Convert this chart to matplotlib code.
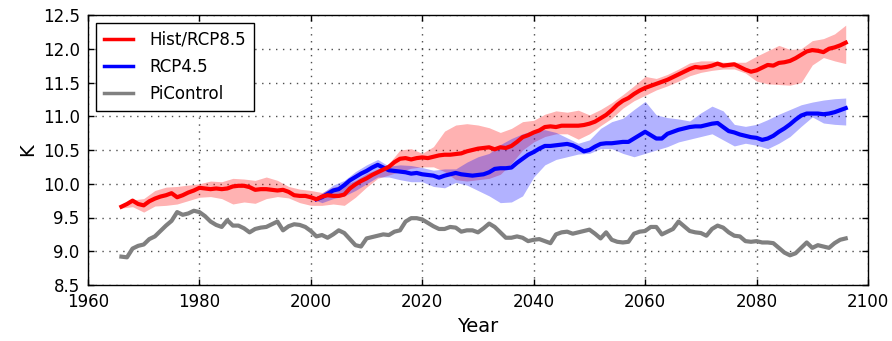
import numpy as np
import matplotlib
matplotlib.use("Agg")
import matplotlib.pyplot as plt

# ---------------- data ----------------
hist_years = list(range(1966, 2097))
hist_rcp85 = [
    9.66, 9.70, 9.75, 9.70, 9.68, 9.74, 9.78, 9.81, 9.83, 9.86,   # 1966-1975
    9.80, 9.83, 9.87, 9.90, 9.94, 9.93, 9.92, 9.93, 9.92, 9.93,   # 1976-1985
    9.96, 9.97, 9.97, 9.95, 9.91, 9.92, 9.92, 9.91, 9.90, 9.91,   # 1986-1995
    9.88, 9.83, 9.82, 9.82, 9.80, 9.77, 9.81, 9.83, 9.82, 9.82,   # 1996-2005
    9.84, 9.93, 9.99, 10.04, 10.08, 10.13, 10.17, 10.21, 10.25, 10.32,  # 2006-2015
    10.37, 10.38, 10.36, 10.38, 10.39, 10.38, 10.40, 10.42, 10.43, 10.43,  # 2016-2025
    10.44, 10.45, 10.48, 10.50, 10.52, 10.53, 10.54, 10.51, 10.54, 10.53,  # 2026-2035
    10.56, 10.62, 10.69, 10.72, 10.76, 10.79, 10.84, 10.85, 10.84, 10.86,  # 2036-2045
    10.86, 10.86, 10.86, 10.87, 10.89, 10.92, 10.97, 11.02, 11.09, 11.17,  # 2046-2055
    11.23, 11.27, 11.33, 11.38, 11.42, 11.45, 11.48, 11.51, 11.54, 11.58,  # 2056-2065
    11.62, 11.66, 11.70, 11.73, 11.72, 11.73, 11.75, 11.78, 11.75, 11.76,  # 2066-2075
    11.77, 11.73, 11.69, 11.66, 11.68, 11.72, 11.76, 11.75, 11.79, 11.80,  # 2076-2085
    11.82, 11.86, 11.91, 11.96, 11.98, 11.97, 11.95, 12.00, 12.02, 12.05,  # 2086-2095
    12.09,                                                                # 2096
]

rcp45_years = list(range(2001, 2097))
rcp45 = [
    9.77, 9.80, 9.85, 9.90, 9.92, 9.98, 10.05, 10.10, 10.15, 10.19,       # 2001-2010
    10.24, 10.28, 10.24, 10.20, 10.19, 10.18, 10.17, 10.15, 10.16, 10.14,  # 2011-2020
    10.13, 10.12, 10.09, 10.12, 10.14, 10.16, 10.14, 10.13, 10.12, 10.13,  # 2021-2030
    10.14, 10.17, 10.22, 10.23, 10.23, 10.24, 10.31, 10.37, 10.43, 10.47,  # 2031-2040
    10.52, 10.56, 10.56, 10.57, 10.58, 10.59, 10.57, 10.53, 10.48, 10.50,  # 2041-2050
    10.55, 10.59, 10.60, 10.60, 10.61, 10.62, 10.62, 10.67, 10.72, 10.77,  # 2051-2060
    10.72, 10.67, 10.67, 10.74, 10.77, 10.80, 10.82, 10.84, 10.85, 10.85,  # 2061-2070
    10.87, 10.89, 10.90, 10.84, 10.78, 10.76, 10.73, 10.71, 10.69, 10.68,  # 2071-2080
    10.65, 10.67, 10.71, 10.77, 10.82, 10.88, 10.95, 11.01, 11.04, 11.04,  # 2081-2090
    11.04, 11.03, 11.04, 11.06, 11.09, 11.12,                              # 2091-2096
]

picontrol_years = list(range(1966, 2097))
picontrol = [
    8.92, 8.91, 9.04, 9.08, 9.10, 9.18, 9.22, 9.30, 9.38, 9.45,   # 1966-1975
    9.58, 9.54, 9.56, 9.60, 9.58, 9.52, 9.44, 9.39, 9.36, 9.46,   # 1976-1985
    9.38, 9.38, 9.34, 9.28, 9.33, 9.35, 9.36, 9.40, 9.44, 9.31,   # 1986-1995
    9.37, 9.40, 9.39, 9.36, 9.30, 9.22, 9.24, 9.20, 9.25, 9.31,   # 1996-2005
    9.27, 9.18, 9.09, 9.07, 9.19, 9.21, 9.23, 9.25, 9.24, 9.29,   # 2006-2015
    9.31, 9.44, 9.49, 9.49, 9.47, 9.42, 9.37, 9.33, 9.33, 9.36,   # 2016-2025
    9.35, 9.29, 9.31, 9.31, 9.28, 9.34, 9.41, 9.36, 9.28, 9.20,   # 2026-2035
    9.20, 9.22, 9.20, 9.15, 9.17, 9.18, 9.15, 9.12, 9.25, 9.28,   # 2036-2045
    9.29, 9.26, 9.28, 9.30, 9.32, 9.26, 9.19, 9.28, 9.17, 9.14,   # 2046-2055
    9.13, 9.14, 9.26, 9.29, 9.30, 9.36, 9.36, 9.25, 9.29, 9.33,   # 2056-2065
    9.44, 9.37, 9.30, 9.28, 9.27, 9.23, 9.33, 9.38, 9.35, 9.28,   # 2066-2075
    9.23, 9.22, 9.15, 9.14, 9.15, 9.13, 9.13, 9.12, 9.05, 8.98,   # 2076-2085
    8.94, 8.97, 9.05, 9.13, 9.05, 9.09, 9.07, 9.05, 9.12, 9.17,   # 2086-2095
    9.19,                                                         # 2096
]

# spread (shaded range) sampled every 2 years
hist_band_years = list(range(1966, 2097, 2))
hist_band_low = [
    9.64, 9.66, 9.58, 9.67, 9.68, 9.70, 9.75, 9.80, 9.81, 9.78,    # 1966-1984
    9.70, 9.73, 9.71, 9.78, 9.81, 9.79, 9.72, 9.68, 9.68, 9.70,    # 1986-2004
    9.68, 9.80, 9.95, 10.08, 10.13, 10.18, 10.23, 10.25, 10.25, 10.18,  # 2006-2024
    10.06, 10.04, 10.06, 10.08, 10.14, 10.30, 10.50, 10.62, 10.70, 10.74,  # 2026-2044
    10.74, 10.66, 10.74, 10.86, 10.97, 11.12, 11.23, 11.31, 11.39, 11.45,  # 2046-2064
    11.52, 11.60, 11.65, 11.68, 11.70, 11.70, 11.64, 11.52, 11.48, 11.47,  # 2066-2084
    11.46, 11.50, 11.76, 11.87, 11.82, 11.78,                              # 2086-2096
]
hist_band_high = [
    9.69, 9.76, 9.78, 9.90, 9.95, 9.96, 9.98, 10.00, 10.04, 10.03,   # 1966-1984
    10.08, 10.07, 10.05, 10.10, 10.05, 9.96, 9.92, 9.90, 9.87, 9.95,  # 1986-2004
    9.98, 10.05, 10.15, 10.22, 10.30, 10.50, 10.52, 10.45, 10.55, 10.78,  # 2006-2024
    10.87, 10.89, 10.87, 10.83, 10.76, 10.82, 10.92, 10.94, 11.03, 11.08,  # 2026-2044
    11.06, 11.09, 11.02, 11.10, 11.20, 11.32, 11.45, 11.59, 11.56, 11.62,  # 2046-2064
    11.70, 11.79, 11.82, 11.82, 11.80, 11.80, 11.80, 11.89, 11.97, 12.05,  # 2066-2084
    11.99, 12.00, 12.12, 12.15, 12.22, 12.35,                              # 2086-2096
]

rcp45_band_years = [2001] + list(range(2002, 2097, 2))
rcp45_band_low = [
    9.75,
    9.72, 9.78, 9.82, 9.90, 10.00, 10.10, 10.10, 10.06, 10.03, 10.03,  # 2002-2020
    9.96, 9.94, 10.02, 9.98, 9.90, 9.82, 9.72, 9.73, 9.82, 10.10,      # 2022-2040
    10.28, 10.36, 10.40, 10.44, 10.45, 10.52, 10.52, 10.45, 10.40, 10.45,  # 2042-2060
    10.50, 10.55, 10.62, 10.66, 10.70, 10.74, 10.65, 10.56, 10.60, 10.57,  # 2062-2080
    10.52, 10.60, 10.70, 10.85, 10.99, 10.90, 10.88, 10.87,                # 2082-2096
]
rcp45_band_high = [
    9.79,
    9.86, 9.98, 10.05, 10.18, 10.28, 10.36, 10.26, 10.28, 10.27, 10.24,  # 2002-2020
    10.20, 10.22, 10.22, 10.32, 10.40, 10.45, 10.58, 10.67, 10.74, 10.79,  # 2022-2040
    10.80, 10.76, 10.68, 10.60, 10.65, 10.82, 10.92, 10.97, 11.10, 11.22,  # 2042-2060
    11.02, 10.98, 10.96, 10.93, 11.05, 11.15, 11.08, 10.88, 10.85, 10.88,  # 2062-2080
    10.95, 11.03, 11.10, 11.17, 11.21, 11.24, 11.26, 11.27,                # 2082-2096
]

x_ticks = [1960, 1980, 2000, 2020, 2040, 2060, 2080, 2100]
y_ticks = [8.5, 9.0, 9.5, 10.0, 10.5, 11.0, 11.5, 12.0, 12.5]

# ---------------- plot ----------------
plt.rcParams['font.family'] = ['DejaVu Sans']
plt.rcParams['font.size'] = 12

fig = plt.figure(figsize=(8.92, 3.41), dpi=100, facecolor='white')
ax = fig.add_axes([88 / 892, 1 - 285 / 341, 780 / 892, 270 / 341])

ax.fill_between(hist_band_years, hist_band_low, hist_band_high,
                color='red', alpha=0.3, linewidth=0)
ax.fill_between(rcp45_band_years, rcp45_band_low, rcp45_band_high,
                color='blue', alpha=0.3, linewidth=0)

l_gray, = ax.plot(picontrol_years, picontrol, color='#808080', lw=3, label='PiControl')
l_blue, = ax.plot(rcp45_years, rcp45, color='blue', lw=3, label='RCP4.5')
l_red, = ax.plot(hist_years, hist_rcp85, color='red', lw=3, label='Hist/RCP8.5')

ax.set_xlim(1960, 2100)
ax.set_ylim(8.5, 12.5)
ax.set_xticks(x_ticks)
ax.set_yticks(y_ticks)
ax.set_yticklabels([f"{v:.1f}" for v in y_ticks])
ax.tick_params(direction='in', length=4, width=1, top=True, right=True,
               labelsize=12, pad=6)
ax.grid(True, color='0.3', linestyle=(0, (1, 4)), linewidth=1.0)
ax.set_axisbelow(True)
for s in ax.spines.values():
    s.set_linewidth(1.0)
    s.set_color('k')

ax.set_xlabel('Year', fontsize=14)
ax.set_ylabel('K', fontsize=14)

leg = ax.legend(handles=[l_red, l_blue, l_gray], loc='upper left',
                fontsize=12, fancybox=False, framealpha=1, edgecolor='k',
                handlelength=1.75, borderpad=0.45, labelspacing=0.55,
                handletextpad=1.0, borderaxespad=0.5)
leg.get_frame().set_linewidth(1.0)
for h in leg.get_lines():
    h.set_linewidth(2.5)

fig.savefig('out.png', dpi=100, facecolor='white')
